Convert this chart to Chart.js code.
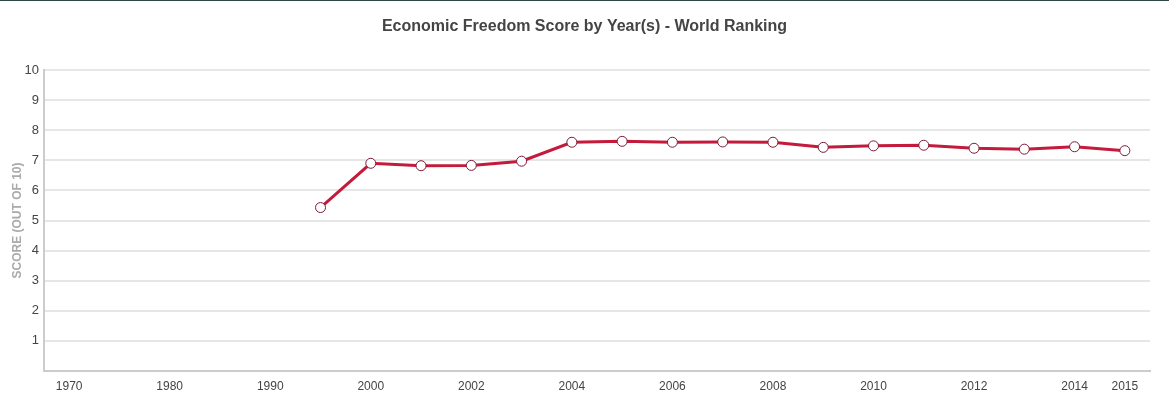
<!DOCTYPE html>
<html>
<head>
<meta charset="utf-8">
<script src="https://cdn.jsdelivr.net/npm/chart.js@4"></script>
<style>
  html, body { margin: 0; padding: 0; background: #fff; }
  body { border-top: 1px solid #2f4a46; }
  .chart-box { position: relative; width: 1169px; height: 398px; }
</style>
</head>
<body>
<div class="chart-box"><canvas id="myChart"></canvas></div>
<script>
// years on the category axis (five-year steps first, then yearly)
const years = ["1970", "1975", "1980", "1985", "1990", "1995", "2000", "2001", "2002", "2003",
  "2004", "2005", "2006", "2007", "2008", "2009", "2010", "2011", "2012", "2013", "2014", "2015"];
// score out of 10, no data before 1995
const scores = [null, null, null, null, null, 5.43, 6.9, 6.82, 6.83, 6.97,
  7.6, 7.63, 7.6, 7.61, 7.6, 7.43, 7.48, 7.5, 7.4, 7.37, 7.45, 7.32];
const yTicks = [1, 2, 3, 4, 5, 6, 7, 8, 9, 10];
const chartTitle = "Economic Freedom Score by Year(s) - World Ranking";

const fontFam = "'Liberation Sans', Arial, sans-serif";

// title centred on the whole canvas
const titlePlugin = {
  id: "pageTitle",
  afterDraw(chart) {
    const c = chart.ctx;
    c.save();
    c.font = "bold 16px " + fontFam;
    c.fillStyle = "#444";
    c.textAlign = "center";
    c.textBaseline = "middle";
    c.fillText(chartTitle, chart.width / 2, 26);
    c.restore();
  },
};

const ctx = document.getElementById("myChart");
new Chart(ctx, {
  type: "line",
  data: {
    labels: years,
    datasets: [
      {
        label: "Score",
        data: scores,
        borderColor: "#c41a3b",
        borderWidth: 3,
        tension: 0,
        pointRadius: 5,
        pointHoverRadius: 5,
        pointBackgroundColor: "#fff",
        pointBorderColor: "#7d1a36",
        pointBorderWidth: 1,
      },
    ],
  },
  plugins: [titlePlugin],
  options: {
    responsive: true,
    maintainAspectRatio: false,
    animation: false,
    layout: { padding: { left: 0, right: 19, top: 69, bottom: 0 } },
    plugins: {
      legend: { display: false },
      tooltip: { enabled: false },
      title: { display: false },
    },
    scales: {
      x: {
        offset: true,
        grid: { display: false, drawTicks: false },
        border: { color: "#cccccc", width: 2 },
        ticks: {
          autoSkip: false,
          maxRotation: 0,
          padding: 8,
          color: "#444",
          font: { family: fontFam, size: 12 },
          callback: (v, i) => (i % 2 === 0 || i === years.length - 1 ? years[i] : ""),
        },
        afterFit: (s) => { s.height = 28; },
      },
      y: {
        min: 0,
        max: 10,
        afterBuildTicks: (s) => { s.ticks = yTicks.map((v) => ({ value: v })); },
        grid: { color: "#e6e6e6", lineWidth: 2, drawTicks: false },
        border: { color: "#cccccc", width: 2 },
        ticks: {
          padding: 5,
          color: "#444",
          font: { family: fontFam, size: 13 },
        },
        title: {
          display: true,
          text: "SCORE (OUT OF 10)",
          color: "#aaa",
          font: { family: fontFam, size: 12, weight: "bold" },
          padding: { top: 10, bottom: 4 },
        },
        afterFit: (s) => { s.width = 44; },
      },
    },
  },
});
</script>
</body>
</html>
